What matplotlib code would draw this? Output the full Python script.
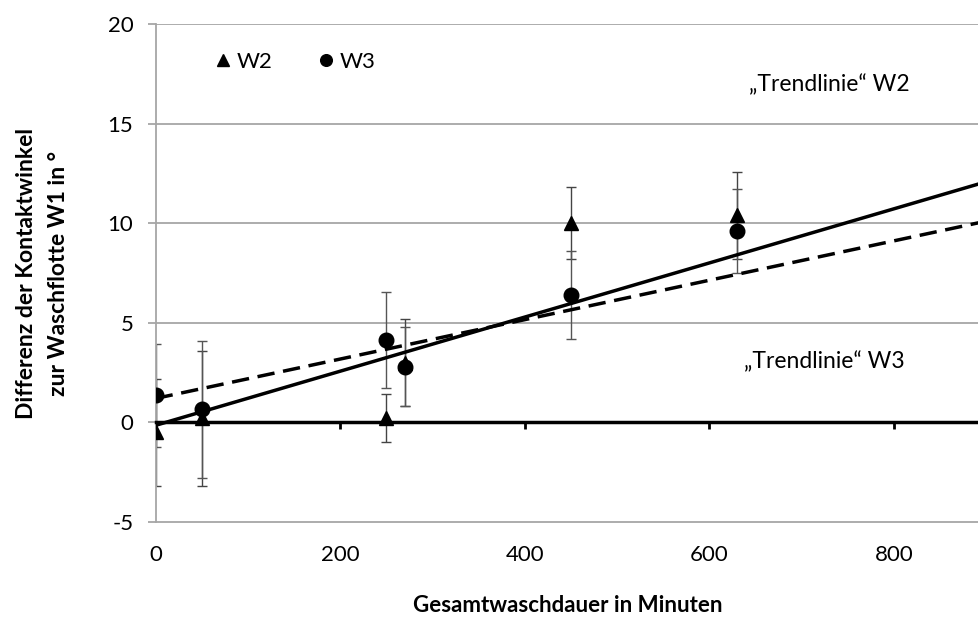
import numpy as np
import matplotlib.pyplot as plt

plt.rcParams['font.family'] = ['Lato', 'DejaVu Sans']
plt.rcParams['axes.unicode_minus'] = False

# Gesamtwaschdauer in Minuten
x_w2 = [0, 50, 250, 270, 450, 630]
y_w2 = [-0.5, 0.2, 0.2, 3.0, 10.0, 10.4]
err_w2 = [2.7, 3.4, 1.2, 2.2, 1.8, 2.2]

x_w3 = [0, 50, 250, 270, 450, 630]
y_w3 = [1.35, 0.65, 4.15, 2.8, 6.4, 9.6]
err_w3 = [2.6, 3.45, 2.4, 2.0, 2.2, 2.1]

# "Trendlinie" (Steigung, Achsenabschnitt)
trend_w2 = [0.0136, -0.15]
trend_w3 = [0.0099, 1.2]

xmax = 892

fig = plt.figure(figsize=(9.79, 6.22), dpi=100)
ax = fig.add_axes([0.159, 0.161, 0.841, 0.8])

grid_col = '#a6a6a6'
for yv in [5, 10, 15, 20]:
    ax.axhline(yv, color=grid_col, lw=1.3, zorder=0)

xs = np.array([0, xmax])
ax.plot(xs, trend_w2[0] * xs + trend_w2[1], color='black', lw=2.5, zorder=3)
ax.plot(xs, trend_w3[0] * xs + trend_w3[1], color='black', lw=2.5,
        ls=(0, (5, 2.5)), zorder=3)

ax.errorbar(x_w2, y_w2, yerr=err_w2, fmt='none', ecolor='#444444',
            elinewidth=1, capsize=3.5, capthick=1, zorder=2)
ax.errorbar(x_w3, y_w3, yerr=err_w3, fmt='none', ecolor='#555555',
            elinewidth=1, capsize=3.5, capthick=1, zorder=2)
h2, = ax.plot(x_w2, y_w2, '^', color='black', ms=10, ls='none', zorder=4, label='W2')
h3, = ax.plot(x_w3, y_w3, 'o', color='black', ms=10.5, ls='none', zorder=4, label='W3')

ax.legend(handles=[h2, h3], ncol=2, frameon=False, loc='center left',
          bbox_to_anchor=(0.05, 0.924), markerscale=0.8, handlelength=0.6,
          handletextpad=0.3, columnspacing=2.1, fontsize=16)

ax.text(730, 16.95, '\u201eTrendlinie\u201c W2', fontsize=16.5, ha='center', va='center')
ax.text(724, 3.05, '\u201eTrendlinie\u201c W3', fontsize=16.5, ha='center', va='center')

ax.set_xlim(0, xmax)
ax.set_ylim(-5, 20)

# x-Achse bei y=0 mit Strichen, Beschriftung unten
ax.spines['bottom'].set_position(('data', 0))
ax.spines['bottom'].set_color('black')
ax.spines['bottom'].set_linewidth(2.5)
ax.spines['bottom'].set_zorder(3)
ax.set_xticks([0, 200, 400, 600, 800])
ax.tick_params(axis='x', direction='out', length=5, width=2, labelbottom=False)

sec = ax.secondary_xaxis('bottom')
sec.set_xticks([0, 200, 400, 600, 800])
sec.tick_params(axis='x', length=0, pad=17, labelsize=16)
sec.spines['bottom'].set_color(grid_col)
sec.spines['bottom'].set_linewidth(1.3)
sec.set_xlabel('Gesamtwaschdauer in Minuten', fontsize=16, fontweight='bold', labelpad=21)

ax.spines['top'].set_visible(False)
ax.spines['right'].set_visible(False)
ax.spines['left'].set_color(grid_col)
ax.spines['left'].set_linewidth(1.3)
ax.set_yticks([-5, 0, 5, 10, 15, 20])
ax.tick_params(axis='y', direction='out', length=6, width=1.3, color=grid_col,
               labelsize=16, pad=10)
ax.set_ylabel('Differenz der Kontaktwinkel\nzur Waschflotte W1 in \u00b0',
              fontsize=16.5, fontweight='bold', labelpad=28, linespacing=1.65)

fig.savefig('out.png', dpi=100)
